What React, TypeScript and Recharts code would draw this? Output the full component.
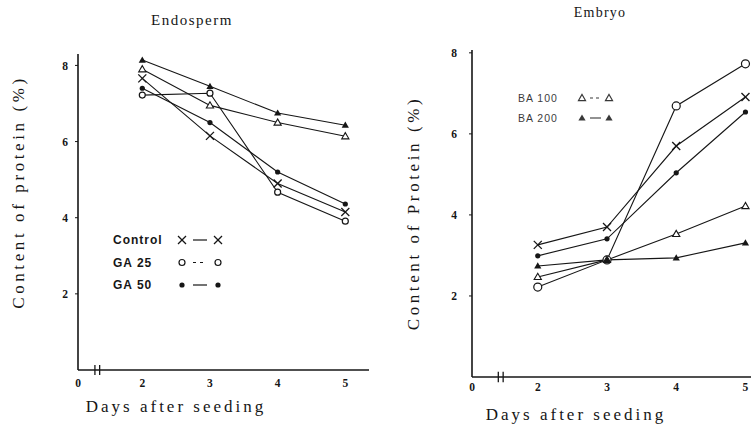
import React from "react";
import { LineChart, Line, XAxis, YAxis, ReferenceLine } from "recharts";

const INK = "#161616";
const SERIF = "'Liberation Serif', 'DejaVu Serif', serif";
const SANS = "'Liberation Sans', Arial, sans-serif";

// days after seeding
const days = [2, 3, 4, 5];

// Endosperm, content of protein (%)
const endoBA200 = [8.14, 7.45, 6.75, 6.43];
const endoBA100 = [7.9, 6.95, 6.5, 6.14];
const endoControl = [7.66, 6.15, 4.9, 4.15];
const endoGA50 = [7.4, 6.5, 5.2, 4.36];
const endoGA25 = [7.22, 7.27, 4.67, 3.91];

// Embryo, content of protein (%)
const embGA25 = [2.22, 2.89, 6.69, 7.73];
const embControl = [3.26, 3.7, 5.7, 6.91];
const embGA50 = [2.99, 3.41, 5.04, 6.54];
const embBA100 = [2.47, 2.89, 3.53, 4.22];
const embBA200 = [2.74, 2.89, 2.94, 3.31];

const yTicks = [2, 4, 6, 8];

// legend entries as printed in each panel
const leftLegendKeys = ["control", "ga25", "ga50"];
const rightLegendKeys = ["ba100", "ba200"];

type Kind = "cross" | "circle" | "bigCircle" | "dot" | "tri" | "openTri";

interface Series {
  key: string;
  name: string;
  values: number[];
  kind: Kind;
}

const endoSeries: Series[] = [
  { key: "ba200", name: "BA 200", values: endoBA200, kind: "tri" },
  { key: "ba100", name: "BA 100", values: endoBA100, kind: "openTri" },
  { key: "control", name: "Control", values: endoControl, kind: "cross" },
  { key: "ga50", name: "GA 50", values: endoGA50, kind: "dot" },
  { key: "ga25", name: "GA 25", values: endoGA25, kind: "circle" },
];

const embSeries: Series[] = [
  { key: "ga25", name: "GA 25", values: embGA25, kind: "bigCircle" },
  { key: "control", name: "Control", values: embControl, kind: "cross" },
  { key: "ga50", name: "GA 50", values: embGA50, kind: "dot" },
  { key: "ba100", name: "BA 100", values: embBA100, kind: "openTri" },
  { key: "ba200", name: "BA 200", values: embBA200, kind: "tri" },
];

const toRows = (series: Series[]) =>
  days.map((d, i) => {
    const row: Record<string, number> = { day: d };
    series.forEach((s) => (row[s.key] = s.values[i]));
    return row;
  });

function mark(kind: Kind, cx: number, cy: number, key?: React.Key) {
  if (cx == null || cy == null) return <g key={key} />;
  switch (kind) {
    case "cross":
      return (
        <g key={key} stroke={INK} strokeWidth={1.3}>
          <line x1={cx - 4} y1={cy - 4} x2={cx + 4} y2={cy + 4} />
          <line x1={cx - 4} y1={cy + 4} x2={cx + 4} y2={cy - 4} />
        </g>
      );
    case "circle":
      return <circle key={key} cx={cx} cy={cy} r={3} fill="#fff" stroke={INK} strokeWidth={1.2} />;
    case "bigCircle":
      return <circle key={key} cx={cx} cy={cy} r={4} fill="#fff" stroke={INK} strokeWidth={1.2} />;
    case "dot":
      return <circle key={key} cx={cx} cy={cy} r={2.6} fill={INK} />;
    case "tri":
      return (
        <polygon
          key={key}
          points={`${cx},${cy - 3.6} ${cx - 3.6},${cy + 2.6} ${cx + 3.6},${cy + 2.6}`}
          fill={INK}
        />
      );
    default:
      return (
        <polygon
          key={key}
          points={`${cx},${cy - 3.6} ${cx - 3.6},${cy + 2.6} ${cx + 3.6},${cy + 2.6}`}
          fill="#fff"
          stroke={INK}
          strokeWidth={1.1}
        />
      );
  }
}

const tickStyle = { fontSize: 11.5, fontFamily: SERIF, fontWeight: 700, fill: INK };

interface PanelProps {
  series: Series[];
  width: number;
  yAxisWidth: number;
  top: number;
  bottom: number;
  right: number;
  yMax: number;
  xDomain: [number, number];
  breakAt: [number, number];
  yTickMargin: number;
  xTickMargin: number;
}

function Panel(p: PanelProps) {
  const origin = p.xDomain[0];
  return (
    <LineChart
      width={p.width}
      height={427}
      data={toRows(p.series)}
      margin={{ top: p.top, right: p.right, bottom: p.bottom, left: 0 }}
    >
      <XAxis
        dataKey="day"
        type="number"
        domain={p.xDomain}
        ticks={[origin, ...days]}
        tickFormatter={(v: number) => (v === origin ? "0" : String(v))}
        axisLine={{ stroke: INK, strokeWidth: 1.6 }}
        tickLine={false}
        tickSize={3}
        tickMargin={p.xTickMargin}
        tick={tickStyle}
        height={30}
        allowDataOverflow
      />
      <YAxis
        type="number"
        domain={[0, p.yMax]}
        ticks={yTicks}
        axisLine={{ stroke: INK, strokeWidth: 1.6 }}
        tickLine={{ stroke: INK }}
        tickSize={3}
        tickMargin={p.yTickMargin}
        tick={tickStyle}
        width={p.yAxisWidth}
        allowDataOverflow
      />
      {p.breakAt.map((bx) => (
        <ReferenceLine
          key={bx}
          segment={[
            { x: bx, y: -0.13 },
            { x: bx, y: 0.13 },
          ]}
          stroke={INK}
          strokeWidth={1.3}
          ifOverflow="visible"
        />
      ))}
      {p.series.map((s) => (
        <Line
          key={s.key}
          dataKey={s.key}
          name={s.name}
          stroke={INK}
          strokeWidth={1.1}
          isAnimationActive={false}
          dot={(d: any) => mark(s.kind, d.cx, d.cy, `${s.key}-${d.index}`)}
          activeDot={false}
        />
      ))}
    </LineChart>
  );
}

const pick = (series: Series[], keys: string[]) =>
  keys.map((k) => series.find((s) => s.key === k) as Series);

const leftLegend = pick(endoSeries, leftLegendKeys);
const rightLegend = pick(embSeries, rightLegendKeys);

export default function App() {
  return (
    <div
      style={{
        position: "fixed",
        left: 0,
        top: 0,
        width: 753,
        height: 427,
        background: "#fff",
        overflow: "hidden",
      }}
    >
      <div style={{ position: "absolute", left: 0, top: 0 }}>
        <Panel
          series={endoSeries}
          width={380}
          yAxisWidth={78}
          top={54}
          bottom={27}
          right={11}
          yMax={8.3}
          xDomain={[1.05, 5.35]}
          breakAt={[1.3, 1.37]}
          yTickMargin={7}
          xTickMargin={6}
        />
      </div>
      <div style={{ position: "absolute", left: 380, top: 0 }}>
        <Panel
          series={embSeries}
          width={373}
          yAxisWidth={92}
          top={50}
          bottom={20}
          right={2}
          yMax={8.07}
          xDomain={[1.05, 5.08]}
          breakAt={[1.43, 1.5]}
          yTickMargin={12}
          xTickMargin={3}
        />
      </div>
      <svg
        width={753}
        height={427}
        style={{ position: "absolute", left: 0, top: 0, pointerEvents: "none" }}
      >
        <g fontFamily={SERIF} fill={INK}>
          <text x={192} y={25} fontSize={15} letterSpacing={1.5} textAnchor="middle">
            Endosperm
          </text>
          <text x={600} y={17} fontSize={14} letterSpacing={1.2} textAnchor="middle">
            Embryo
          </text>
          <text
            x={18}
            y={192}
            fontSize={17}
            letterSpacing={3.6}
            textAnchor="middle"
            dominantBaseline="central"
            transform="rotate(-90 18 192)"
          >
            Content of protein (%)
          </text>
          <text
            x={413}
            y={213}
            fontSize={17}
            letterSpacing={3.6}
            textAnchor="middle"
            dominantBaseline="central"
            transform="rotate(-90 413 213)"
          >
            Content of Protein (%)
          </text>
          <text x={176} y={412} fontSize={17} letterSpacing={3} textAnchor="middle">
            Days after seeding
          </text>
          <text x={576} y={420} fontSize={17} letterSpacing={3} textAnchor="middle">
            Days after seeding
          </text>
        </g>
        <g fontFamily={SANS} fontWeight={700} fontSize={12} fill={INK}>
          {leftLegend.map((s, i) => {
            const y = 240 + i * 22.5;
            return (
              <g key={s.key}>
                <text x={113} y={y + 4} letterSpacing={1}>
                  {s.name}
                </text>
                {mark(s.kind, 182, y)}
                <line
                  x1={193}
                  y1={y}
                  x2={207}
                  y2={y}
                  stroke={INK}
                  strokeWidth={1.2}
                  strokeDasharray={s.kind === "circle" ? "3 4" : undefined}
                />
                {mark(s.kind, 218, y)}
              </g>
            );
          })}
        </g>
        <g fontFamily={SANS} fontSize={10.5} fill={INK} opacity={0.85}>
          {rightLegend.map((s, i) => {
            const y = 98 + i * 20;
            return (
              <g key={s.key}>
                <text x={518} y={y + 4} letterSpacing={1}>
                  {s.name}
                </text>
                {mark(s.kind, 582, y)}
                <line
                  x1={590}
                  y1={y}
                  x2={601}
                  y2={y}
                  stroke={INK}
                  strokeWidth={1.1}
                  strokeDasharray={s.kind === "openTri" ? "3 3" : undefined}
                />
                {mark(s.kind, 609, y)}
              </g>
            );
          })}
        </g>
      </svg>
    </div>
  );
}
